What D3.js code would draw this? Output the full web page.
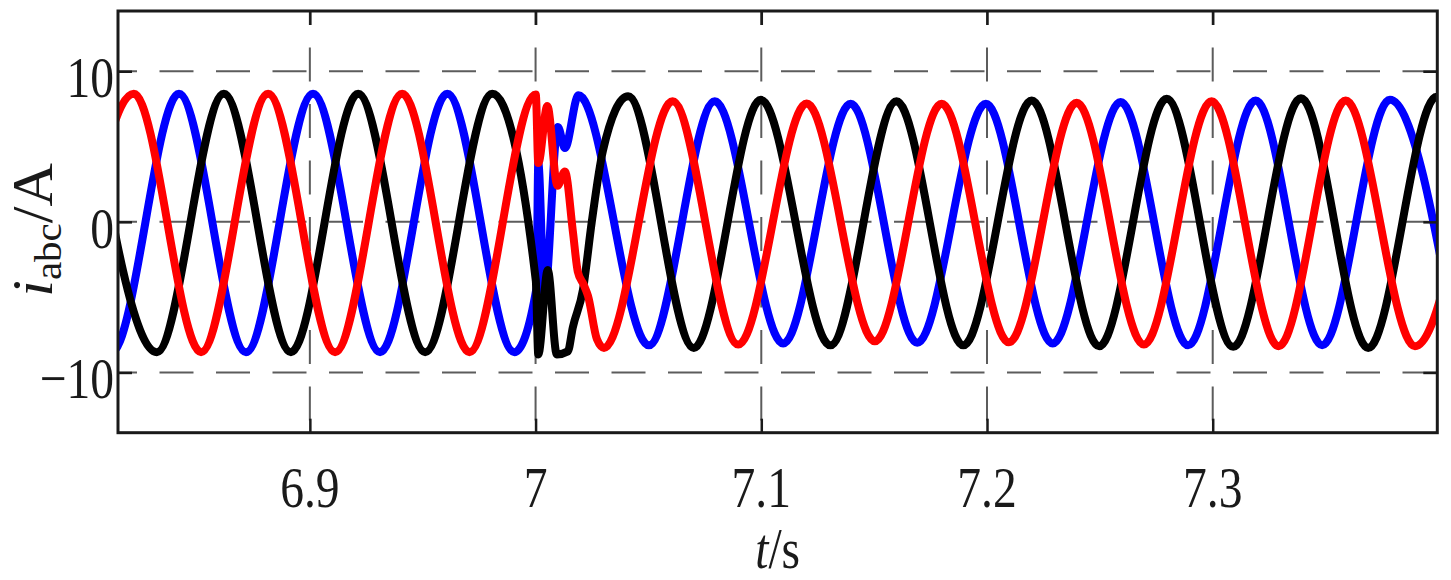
<!DOCTYPE html>
<html>
<head>
<meta charset="utf-8">
<script src="https://cdn.jsdelivr.net/npm/d3@7"></script>
<style>
  html, body { margin: 0; padding: 0; background: #ffffff; }
  svg { display: block; }
</style>
</head>
<body>
<svg id="chart" width="1451" height="580"></svg>
<script>
// ---------------- data ----------------
const xTicks = [6.9, 7.0, 7.1, 7.2, 7.3];
const xTickLabels = ["6.9", "7", "7.1", "7.2", "7.3"];
const yTicks = [-10, 0, 10];
const yTickLabels = ["\u221210", "0", "10"];
const xDomain = [6.815, 7.3995];
const yDomain = [-14, 14];

// phase drawn in blue: extremes, plus the transient points at t = 7 s
const blueT = [6.7825, 6.8122, 6.8420, 6.8717, 6.9014, 6.9311, 6.9609, 6.9906,
  7.0004, 7.0012, 7.0039, 7.0099, 7.0130, 7.0190,
  7.0502, 7.0794, 7.1097, 7.1396, 7.1691, 7.1995, 7.2291, 7.2592, 7.2891, 7.3190,
  7.3485, 7.3785, 7.4082];
const blueI = [8.5, -8.65, 8.5, -8.65, 8.5, -8.65, 8.5, -8.65,
  -4.4, 3.9, -5.0, 6.3, 4.9, 8.4,
  -8.2, 8.0, -8.08, 7.84, -8.03, 7.84, -8.08, 7.95, -8.2, 8.06,
  -8.2, 8.1, -8.2];

// phase drawn in black
const blackT = [6.8024, 6.8322, 6.8619, 6.8916, 6.9214, 6.9511, 6.9808,
  7.0001, 7.0012, 7.0054, 7.0094, 7.0143, 7.0165, 7.0210, 7.0249, 7.0298,
  7.0410, 7.0701, 7.0998, 7.1306, 7.1599, 7.1895, 7.2198, 7.2497, 7.2796,
  7.3091, 7.3391, 7.3689, 7.3992, 7.4286];
const blackI = [8.5, -8.65, 8.5, -8.65, 8.5, -8.65, 8.5,
  -3.9, -8.8, -3.2, -8.8, -8.6, -7.0, -4.5, 0.0, 4.7,
  8.34, -8.37, 8.1, -8.2, 8.0, -8.2, 8.06, -8.26, 8.17,
  -8.3, 8.2, -8.37, 8.3, -8.3];

// phase drawn in red
const redT = [6.7923, 6.8220, 6.8518, 6.8815, 6.9112, 6.9409, 6.9707,
  7.0001, 7.0012, 7.0052, 7.0097, 7.0130, 7.0165, 7.0187, 7.0214, 7.0232, 7.0272,
  7.0303, 7.0607, 7.0898, 7.1201, 7.1503, 7.1799, 7.2097, 7.2397, 7.2695,
  7.2995, 7.3292, 7.3589, 7.3896, 7.4188];
const redI = [-8.65, 8.5, -8.65, 8.5, -8.65, 8.5, -8.65,
  8.45, 3.9, 7.7, 2.4, 3.35, -0.6, -3.3, -4.2, -4.9, -7.8,
  -8.37, 8.01, -8.15, 7.86, -7.93, 7.84, -8.0, 7.9, -8.15,
  8.0, -8.26, 8.06, -8.26, 8.1];

// ---------------- drawing ----------------
const plot = { left: 118, right: 1437.3, top: 11, bottom: 432.7 };
const FONT = "'Liberation Serif', 'Times New Roman', serif";
const SQ = 0.82; // horizontal squeeze of the lettering in the reference

const svg = d3.select("#chart");
const x = d3.scaleLinear().domain(xDomain).range([plot.left, plot.right]);
const y = d3.scaleLinear().domain(yDomain).range([plot.bottom, plot.top]);

svg.append("defs").append("clipPath").attr("id", "clip")
  .append("rect")
  .attr("x", plot.left).attr("y", plot.top)
  .attr("width", plot.right - plot.left).attr("height", plot.bottom - plot.top);

// grid (dashed)
const grid = svg.append("g").attr("class", "grid")
  .attr("stroke", "#5c5c5c").attr("stroke-width", 2).attr("fill", "none");
grid.selectAll("line.h").data(yTicks).join("line").attr("class", "h")
  .attr("x1", plot.left).attr("x2", plot.right)
  .attr("y1", d => y(d)).attr("y2", d => y(d))
  .attr("stroke-dasharray", "34,22.5").attr("stroke-dashoffset", 15);
grid.selectAll("line.v").data(xTicks).join("line").attr("class", "v")
  .attr("x1", d => x(d)).attr("x2", d => x(d))
  .attr("y1", plot.top).attr("y2", plot.bottom)
  .attr("stroke-dasharray", "34,22.5").attr("stroke-dashoffset", 20);

// curves
const line = d3.line()
  .x(d => x(d[0])).y(d => y(d[1]))
  .curve(d3.curveMonotoneX);
const series = [
  { t: blueT, v: blueI, color: "#0000ff" },
  { t: blackT, v: blackI, color: "#000000" },
  { t: redT, v: redI, color: "#ff0000" }
];
const curves = svg.append("g").attr("clip-path", "url(#clip)");
series.forEach(s => {
  const pts = s.t.map((t, i) => [t, s.v[i]]);
  curves.append("path").datum(pts)
    .attr("d", line)
    .attr("fill", "none")
    .attr("stroke", s.color)
    .attr("stroke-width", 8)
    .attr("stroke-linejoin", "round")
    .attr("stroke-linecap", "round");
});

// axes: inward ticks on all four sides, no labels
const TICK = 14;
function styleAxis(g) {
  g.select(".domain").remove();
  g.selectAll(".tick line").attr("stroke", "#1a1a1a").attr("stroke-width", 2.5);
  g.selectAll(".tick text").remove();
}
svg.append("g").attr("transform", `translate(0,${plot.bottom})`)
  .call(d3.axisBottom(x).tickValues(xTicks).tickSizeInner(-TICK).tickSizeOuter(0))
  .call(styleAxis);
svg.append("g").attr("transform", `translate(0,${plot.top})`)
  .call(d3.axisTop(x).tickValues(xTicks).tickSizeInner(-TICK).tickSizeOuter(0))
  .call(styleAxis);
svg.append("g").attr("transform", `translate(${plot.left},0)`)
  .call(d3.axisLeft(y).tickValues(yTicks).tickSizeInner(-TICK).tickSizeOuter(0))
  .call(styleAxis);
svg.append("g").attr("transform", `translate(${plot.right},0)`)
  .call(d3.axisRight(y).tickValues(yTicks).tickSizeInner(-TICK).tickSizeOuter(0))
  .call(styleAxis);

// frame
svg.append("rect")
  .attr("x", plot.left).attr("y", plot.top)
  .attr("width", plot.right - plot.left).attr("height", plot.bottom - plot.top)
  .attr("fill", "none").attr("stroke", "#1a1a1a").attr("stroke-width", 3);

// tick labels
svg.append("g").selectAll("text").data(xTicks).join("text")
  .attr("transform", d => `translate(${x(d)},507) scale(${SQ},1)`)
  .attr("text-anchor", "middle")
  .attr("font-family", FONT).attr("font-size", 58).attr("fill", "#1a1a1a")
  .text((d, i) => xTickLabels[i]);
svg.append("g").selectAll("text").data(yTicks).join("text")
  .attr("transform", d => `translate(114,${y(d) + 26}) scale(${SQ},1)`)
  .attr("text-anchor", "end")
  .attr("font-family", FONT).attr("font-size", 58).attr("fill", "#1a1a1a")
  .text((d, i) => yTickLabels[i]);

// axis titles
const xt = svg.append("text")
  .attr("transform", `translate(${(plot.left + plot.right) / 2},568) scale(${SQ},1)`)
  .attr("text-anchor", "middle")
  .attr("font-family", FONT).attr("font-size", 58).attr("fill", "#1a1a1a");
xt.append("tspan").attr("font-style", "italic").text("t");
xt.append("tspan").text("/s");

const yt = svg.append("text")
  .attr("transform", `translate(52,230) rotate(-90) scale(1,0.95)`)
  .attr("text-anchor", "middle")
  .attr("font-family", FONT).attr("font-size", 60).attr("fill", "#1a1a1a");
yt.append("tspan").attr("font-style", "italic").text("i");
yt.append("tspan").attr("font-size", 41).attr("dy", 9).text("abc");
yt.append("tspan").attr("dy", -9).text("/A");
</script>
</body>
</html>
